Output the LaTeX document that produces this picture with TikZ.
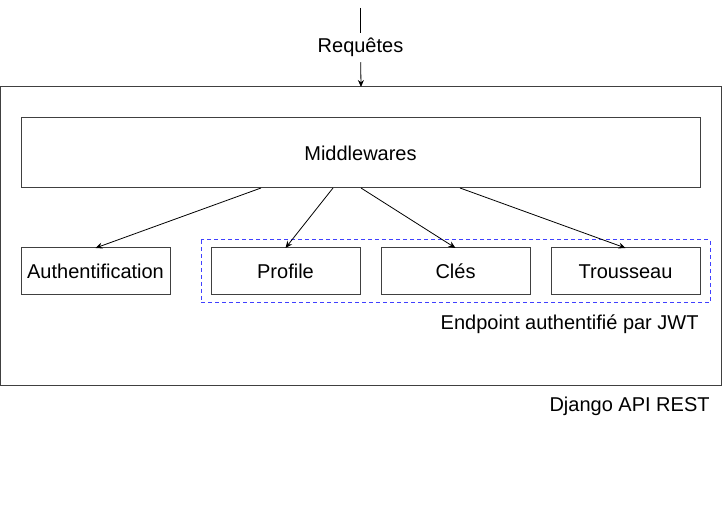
\documentclass[tikz,border=0pt]{standalone}
\usepackage{fontspec}
\setmainfont{Liberation Sans}
\usetikzlibrary{arrows.meta,calc,positioning}
\tikzstyle{bloc} = [draw=black!75, line width=0.5pt, inner sep=0pt, outer sep=0pt,
    minimum width=74.5pt, minimum height=23.5pt, font=\fontsize{10pt}{12pt}\selectfont]
\tikzstyle{fl} = [-{Stealth[length=3.5pt,width=3pt]}, line width=0.4pt]
\tikzstyle{txt} = [font=\fontsize{10pt}{12pt}\selectfont, inner sep=0pt]

\begin{document}
\begin{tikzpicture}[x=0.5pt, y=-0.5pt]
    \useasboundingbox (0,0) rectangle (722,528);% fix the page
    \node[bloc, minimum width=360.5pt, minimum height=149.5pt, anchor=north west]
        (api) at (0.5,87) {};% the Django box
    \node[bloc, minimum width=339.5pt, minimum height=35pt, anchor=north west]
        (mw) at (21,118) {Middlewares};% middlewares
    \node[bloc, anchor=north west] (auth) at (21,248) {Authentification};
    \node[bloc, anchor=north west] (prof) at (211,248) {Profile};
    \node[bloc, anchor=north west] (cles) at (381,248) {Clés};
    \node[bloc, anchor=north west] (trou) at (551,248) {Trousseau};
    \draw[blue!75, line width=0.5pt, dash pattern=on 2pt off 1.5pt]
        (201,240) rectangle (710,303);% the JWT group
    \node[txt, anchor=east] (jwt) at (699,324) {Endpoint authentifié par JWT};
    \node[txt, anchor=east] (dj) at (710,406) {Django API REST};
    % incoming requests
    \coordinate (src) at (360.5,8);
    \node[txt, inner sep=2.5pt] (req) at (360.5,47.5) {Requêtes};
    \draw[line width=0.4pt] (src) -- (req);
    \draw[fl] (req) -- (api.north);
    % dispatch
    \draw[fl] ($(mw.south)+(-99.5,0)$) -- (auth.north);
    \draw[fl] ($(mw.south)+(-27.5,0)$) -- (prof.north);
    \draw[fl] ($(mw.south)+(0.5,0)$) -- (cles.north);
    \draw[fl] ($(mw.south)+(99.5,0)$) -- (trou.north);
\end{tikzpicture}
\end{document}
